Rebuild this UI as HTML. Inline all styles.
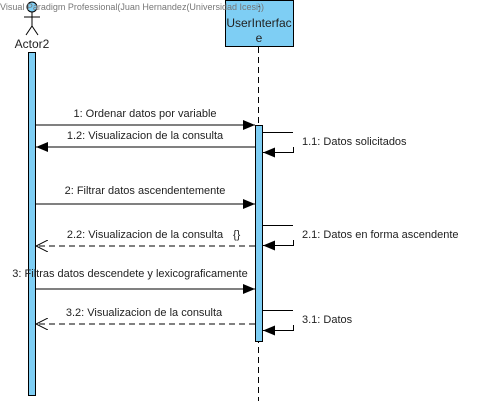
<!DOCTYPE html>
<html><head><meta charset="utf-8"><style>
html,body{margin:0;padding:0;background:#fff;width:477px;height:401px;overflow:hidden}
text{font-family:"Liberation Sans",sans-serif;font-size:11px;fill:#222}
</style></head><body>
<svg width="477" height="401" xmlns="http://www.w3.org/2000/svg">
<defs>
<marker id="f" markerWidth="12" markerHeight="10" refX="12" refY="5" orient="auto" markerUnits="userSpaceOnUse"><path d="M0,0 L12,5 L0,10 z" fill="#000"/></marker>
<marker id="o" markerWidth="12" markerHeight="12" refX="12" refY="6" orient="auto" markerUnits="userSpaceOnUse"><path d="M0,0 L12,6 L0,12" fill="none" stroke="#000"/></marker>
</defs>
<!-- actor -->
<circle cx="32" cy="7" r="5" fill="#7ecef4" stroke="#000"/>
<line x1="32" y1="12" x2="32" y2="26" stroke="#000"/>
<line x1="24" y1="17" x2="40" y2="17" stroke="#000"/>
<line x1="32" y1="26" x2="26" y2="35" stroke="#000"/>
<line x1="32" y1="26" x2="38" y2="35" stroke="#000"/>
<text x="32" y="48" text-anchor="middle" style="font-size:12px">Actor2</text>
<rect x="28.5" y="52.5" width="7" height="343" fill="#7ecef4" stroke="#000"/>
<!-- UI -->
<rect x="225.5" y="0.5" width="68" height="46" fill="#7ecef4" stroke="#000"/>
<text x="259" y="12" text-anchor="middle">:</text>
<text x="259" y="27" text-anchor="middle" style="font-size:12px">UserInterfac</text>
<text x="259" y="42" text-anchor="middle" style="font-size:12px">e</text>
<line x1="258.5" y1="47" x2="258.5" y2="401" stroke="#000" stroke-dasharray="6,4"/>
<rect x="255.5" y="125.5" width="7" height="216" fill="#7ecef4" stroke="#000"/>
<!-- messages -->
<line x1="36" y1="125" x2="255" y2="125" stroke="#000" marker-end="url(#f)"/>
<text x="145" y="117" text-anchor="middle">1: Ordenar datos por variable</text>
<line x1="255" y1="147" x2="36" y2="147" stroke="#000" marker-end="url(#f)"/>
<text x="145" y="139" text-anchor="middle">1.2: Visualizacion de la consulta</text>
<line x1="263" y1="132.5" x2="293" y2="132.5" stroke="#000"/>
<polyline points="293.5,147 293.5,152.5 263,152.5" fill="none" stroke="#000" marker-end="url(#f)"/>
<text x="302" y="145">1.1: Datos solicitados</text>
<line x1="36" y1="204" x2="255" y2="204" stroke="#000" marker-end="url(#f)"/>
<text x="145" y="194" text-anchor="middle">2: Filtrar datos ascendentemente</text>
<line x1="263" y1="225.5" x2="293" y2="225.5" stroke="#000"/>
<polyline points="293.5,240 293.5,245.5 263,245.5" fill="none" stroke="#000" marker-end="url(#f)"/>
<text x="302" y="238">2.1: Datos en forma ascendente</text>
<line x1="255" y1="246" x2="36" y2="246" stroke="#000" stroke-dasharray="6,4" marker-end="url(#o)"/>
<text x="145" y="238" text-anchor="middle">2.2: Visualizacion de la consulta</text>
<text x="233" y="238">{}</text>
<line x1="36" y1="289" x2="255" y2="289" stroke="#000" marker-end="url(#f)"/>
<text x="130" y="277" text-anchor="middle">3: Filtras datos descendete y lexicograficamente</text>
<line x1="263" y1="310.5" x2="293" y2="310.5" stroke="#000"/>
<polyline points="293.5,325 293.5,330.5 263,330.5" fill="none" stroke="#000" marker-end="url(#f)"/>
<text x="302" y="323">3.1: Datos</text>
<line x1="255" y1="324" x2="36" y2="324" stroke="#000" stroke-dasharray="6,4" marker-end="url(#o)"/>
<text x="144" y="316" text-anchor="middle">3.2: Visualizacion de la consulta</text>
<text x="0" y="10" style="font-size:9px;fill:#777">Visual Paradigm Professional(Juan Hernandez(Universidad Icesi))</text>
</svg>
</body></html>
